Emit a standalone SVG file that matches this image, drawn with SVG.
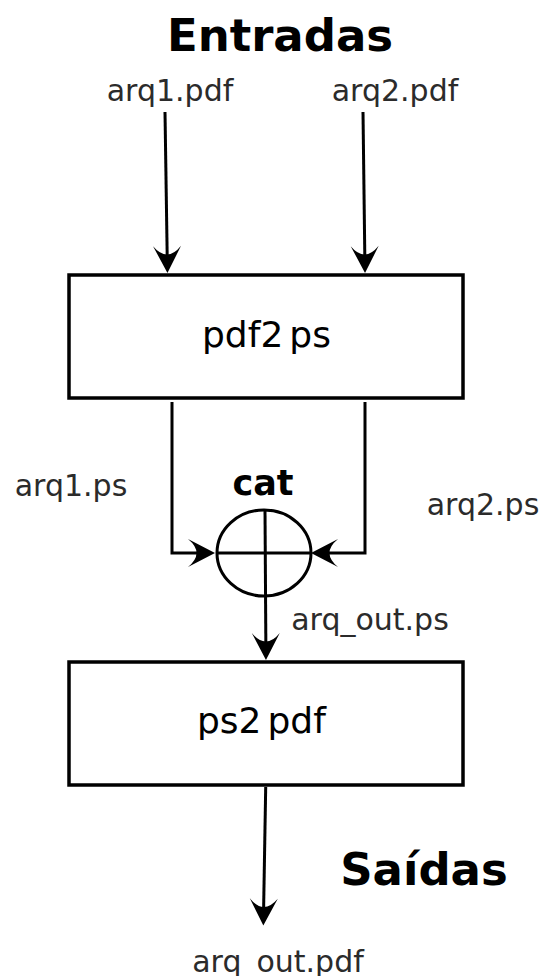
<svg xmlns="http://www.w3.org/2000/svg" width="545" height="976" viewBox="0 0 545 976">
<style>
.title{font-family:"DejaVu Sans","Liberation Sans",sans-serif;font-weight:bold;font-size:45px;fill:#000}
.lbl{font-family:"DejaVu Sans","Liberation Sans",sans-serif;font-size:30px;fill:#2b2b2b}
.box{fill:#fff;stroke:#000;stroke-width:3.5}
.boxtxt{font-family:"DejaVu Sans","Liberation Sans",sans-serif;font-size:36px;fill:#000}
.cat{font-family:"DejaVu Sans","Liberation Sans",sans-serif;font-weight:bold;font-size:35px;fill:#000}
.conn{fill:none;stroke:#000;stroke-width:3}
</style>
<defs>
<marker id="ah" markerUnits="userSpaceOnUse" markerWidth="40" markerHeight="40" refX="0" refY="0" viewBox="-20 -20 40 40" orient="auto" overflow="visible">
<path d="M10,0 L-17,-14 Q0,0 -17,14 Z" fill="#000"/>
</marker>
</defs>
<text class="title" x="280" y="51" text-anchor="middle">Entradas</text>
<text class="title" x="424" y="885" text-anchor="middle">Saídas</text>
<text class="lbl" x="170" y="101" text-anchor="middle">arq1.pdf</text>
<text class="lbl" x="395" y="101" text-anchor="middle">arq2.pdf</text>
<text class="lbl" x="71" y="496" text-anchor="middle">arq1.ps</text>
<text class="lbl" x="483" y="515" text-anchor="middle">arq2.ps</text>
<text class="lbl" x="370" y="630" text-anchor="middle">arq_out.ps</text>
<text class="lbl" x="278" y="972" text-anchor="middle">arq_out.pdf</text>
<g id="pdf2ps">
<rect class="box" x="69" y="275" width="394" height="123"/>
<text class="boxtxt" x="202" y="347">pdf2<tspan dx="6">ps</tspan></text>
</g>
<g id="ps2pdf">
<rect class="box" x="69" y="662" width="394" height="123"/>
<text class="boxtxt" x="197" y="733">ps2<tspan dx="6">pdf</tspan></text>
</g>
<g id="cat">
<ellipse cx="264" cy="553" rx="47" ry="43" fill="none" stroke="#000" stroke-width="3"/>
<line x1="217" y1="553" x2="311" y2="553" stroke="#000" stroke-width="3"/>
<text class="cat" x="263" y="495" text-anchor="middle">cat</text>
</g>
<g id="connectors">
<path class="conn" d="M165,112 L167.3,263" marker-end="url(#ah)"/>
<path class="conn" d="M363,112 L364.9,263" marker-end="url(#ah)"/>
<path class="conn" d="M172,402 V553 H205" marker-end="url(#ah)"/>
<path class="conn" d="M365,402 V553 H321" marker-end="url(#ah)"/>
<path class="conn" d="M265,510 L265.9,650" marker-end="url(#ah)"/>
<path class="conn" d="M265.7,787 L263.5,915.5" marker-end="url(#ah)"/>
</g>
</svg>
